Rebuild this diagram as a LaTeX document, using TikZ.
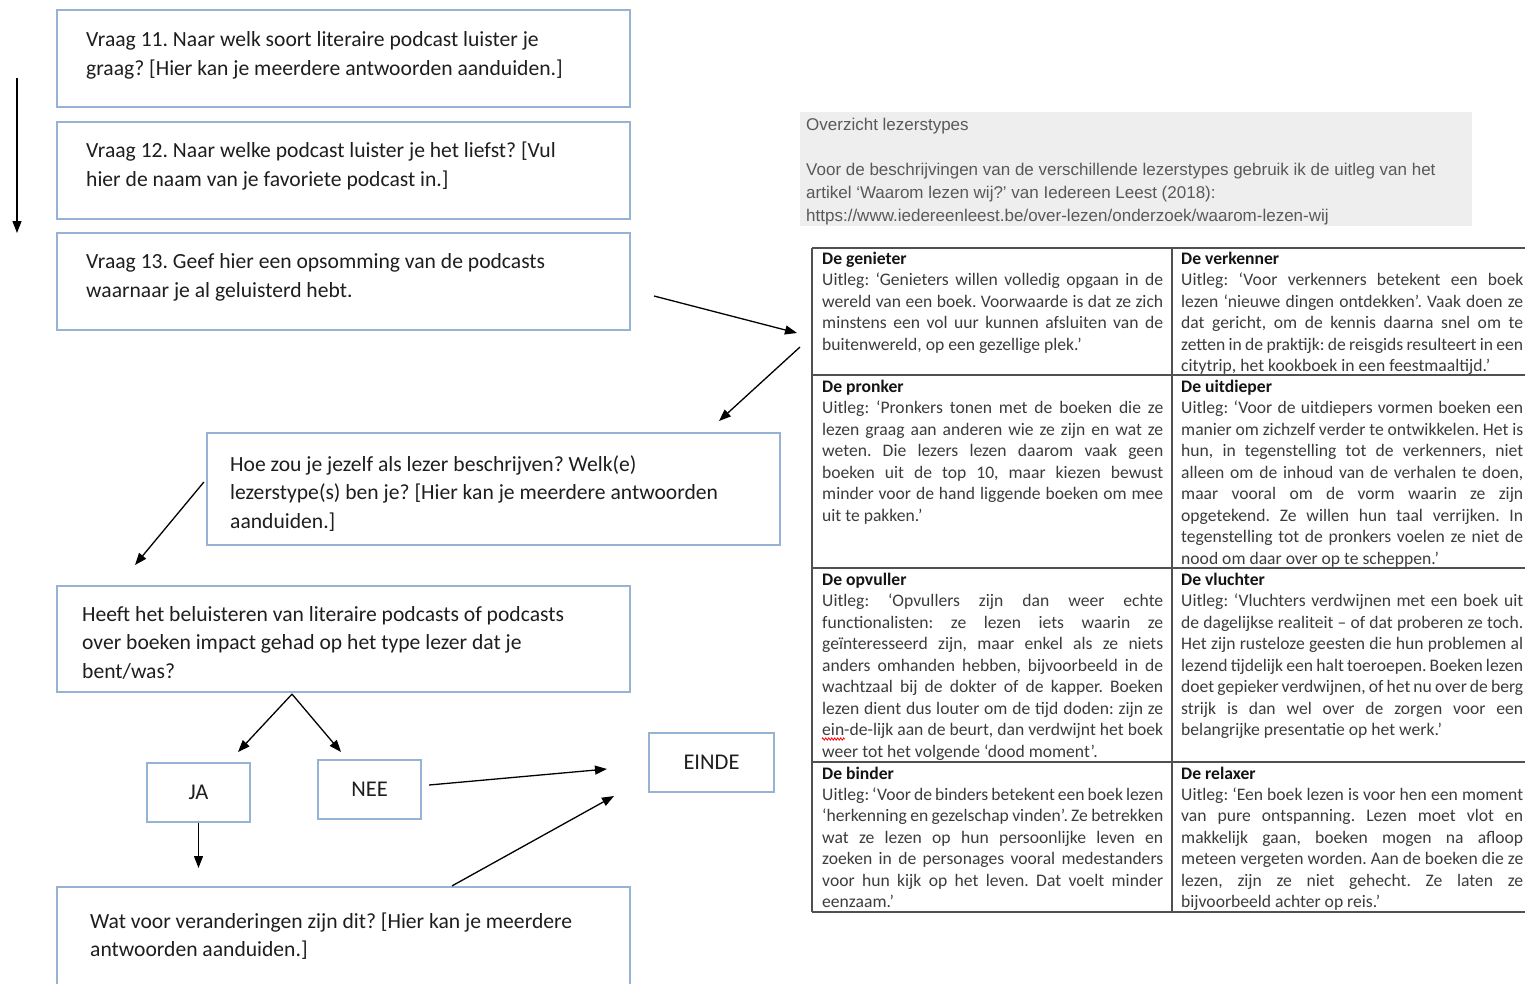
\documentclass[tikz,border=0pt]{standalone}
\usepackage{fontspec}
\setmainfont{Carlito}
\newfontfamily\arialf{Liberation Sans}
\usetikzlibrary{arrows.meta,calc,decorations.pathmorphing}
\definecolor{boxblue}{RGB}{150,178,212}
\definecolor{qcol}{RGB}{30,30,30}
\definecolor{tabcol}{RGB}{60,60,60}
\definecolor{hdrcol}{RGB}{20,20,20}
\definecolor{ovcol}{RGB}{89,89,89}
\definecolor{ovbg}{RGB}{238,238,238}
\definecolor{tline}{RGB}{80,80,80}
\frenchspacing
\newlength\cellw
\newcommand\jline[1]{\hbox to \cellw{#1}}
\newcommand\fline[1]{\hbox{#1}}
\newcommand\tcell[3]{\setlength\cellw{#1}\vtop{\hbox{\color{hdrcol}\bfseries #2}#3}}
\newcommand\qlines[1]{\vtop{#1}}
\begin{document}
\begin{tikzpicture}[x=1pt,y=-1pt,
  qbox/.style={draw=boxblue, line width=2.2pt, fill=white, rectangle, inner sep=0pt},
  qtext/.style={anchor=base west, inner sep=0pt, text=qcol, font=\fontsize{21.6}{29}\selectfont},
  lbl/.style={qbox, text=qcol, font=\fontsize{22.5}{27}\selectfont, text height=14.5pt, text depth=0pt},
  tabtext/.style={anchor=base west, inner sep=0pt, text=tabcol, font=\fontsize{17.6}{21.45}\selectfont},
  ovtext/.style={anchor=base west, inner sep=0pt, text=ovcol, font=\arialf\fontsize{17}{22.8}\selectfont},
  tabline/.style={draw=tline, line width=1.3pt},
  arr/.style={draw=black, line width=1.3pt, -{Triangle[length=12pt,width=9pt]}}]
\useasboundingbox (0,0) rectangle (1525,983);
\clip (0,0) rectangle (1525,983);
\fill[white] (0,0) rectangle (1525,983);

% question boxes
\node[qbox, minimum width=573pt, minimum height=97pt] (q11) at (343.5,58.5) {};
\node[qbox, minimum width=573pt, minimum height=97pt] (q12) at (343.5,170.5) {};
\node[qbox, minimum width=573pt, minimum height=97pt] (q13) at (343.5,281.5) {};
\node[qbox, minimum width=573pt, minimum height=112pt] (hoe) at (493.5,489) {};
\node[qbox, minimum width=573pt, minimum height=106pt] (heeft) at (343.5,639) {};
\node[qbox, minimum width=573pt, minimum height=100pt] (wat) at (343.5,937) {};
\node[lbl, minimum width=103pt, minimum height=59pt] (ja) at (198.5,792.5) {JA};
\node[lbl, minimum width=103pt, minimum height=59pt] (nee) at (369.5,789.5) {NEE};
\node[lbl, minimum width=125pt, minimum height=59pt] (einde) at (711.5,762.5) {EINDE};

\node[qtext] (q11t) at (86,46) {\qlines{\hbox{Vraag 11. Naar welk soort literaire podcast luister je}\hbox{graag? [Hier kan je meerdere antwoorden aanduiden.]}}};
\node[qtext] (q12t) at (86,157) {\qlines{\hbox{Vraag 12. Naar welke podcast luister je het liefst? [Vul}\hbox{hier de naam van je favoriete podcast in.]}}};
\node[qtext] (q13t) at (86,268) {\qlines{\hbox{Vraag 13. Geef hier een opsomming van de podcasts}\hbox{waarnaar je al geluisterd hebt.}}};
\node[qtext, font=\fontsize{21.6}{28.5}\selectfont] (hoet) at (230,471) {\qlines{\hbox{Hoe zou je jezelf als lezer beschrijven? Welk(e)}\hbox{lezerstype(s) ben je? [Hier kan je meerdere antwoorden}\hbox{aanduiden.]}}};
\node[qtext, font=\fontsize{21.6}{28.5}\selectfont] (heeftt) at (82,621) {\qlines{\hbox{Heeft het beluisteren van literaire podcasts of podcasts}\hbox{over boeken impact gehad op het type lezer dat je}\hbox{bent/was?}}};
\node[qtext, font=\fontsize{21.6}{28.5}\selectfont] (watt) at (90,928) {\qlines{\hbox{Wat voor veranderingen zijn dit? [Hier kan je meerdere}\hbox{antwoorden aanduiden.]}}};

% overview block
\fill[ovbg] (800,112) rectangle (1472,226);
\node[ovtext] (ovt) at (806,130) {\qlines{\hbox{Overzicht lezerstypes}\hbox{}\hbox{Voor de beschrijvingen van de verschillende lezerstypes gebruik ik de uitleg van het}\hbox{artikel ‘Waarom lezen wij?’ van Iedereen Leest (2018):}\hbox{https://www.iedereenleest.be/over-lezen/onderzoek/waarom-lezen-wij}}};

% table grid
\draw[tabline] (812,248) -- (1525,248);
\draw[tabline] (812,375) -- (1525,375);
\draw[tabline] (812,568) -- (1525,568);
\draw[tabline] (812,762) -- (1525,762);
\draw[tabline] (812,912) -- (1525,912);
\draw[tabline] (812,248) -- (812,912);
\draw[tabline] (1172,248) -- (1172,912);

% table cells
\node[tabtext] (c11) at (822,264.5) {\tcell{341pt}{De genieter}{%
\jline{Uitleg: ‘Genieters willen volledig opgaan in de}%
\jline{wereld van een boek. Voorwaarde is dat ze zich}%
\jline{minstens een vol uur kunnen afsluiten van de}%
\fline{buitenwereld, op een gezellige plek.’}}};
\node[tabtext] (c12) at (1181,264.5) {\tcell{342pt}{De verkenner}{%
\jline{Uitleg: ‘Voor verkenners betekent een boek}%
\jline{lezen ‘nieuwe dingen ontdekken’. Vaak doen ze}%
\jline{dat gericht, om de kennis daarna snel om te}%
\jline{zetten in de praktijk: de reisgids resulteert in een}%
\fline{citytrip, het kookboek in een feestmaaltijd.’}}};
\node[tabtext] (c21) at (822,392.5) {\tcell{341pt}{De pronker}{%
\jline{Uitleg: ‘Pronkers tonen met de boeken die ze}%
\jline{lezen graag aan anderen wie ze zijn en wat ze}%
\jline{weten. Die lezers lezen daarom vaak geen}%
\jline{boeken uit de top 10, maar kiezen bewust}%
\jline{minder voor de hand liggende boeken om mee}%
\fline{uit te pakken.’}}};
\node[tabtext] (c22) at (1181,392.5) {\tcell{342pt}{De uitdieper}{%
\jline{Uitleg: ‘Voor de uitdiepers vormen boeken een}%
\jline{manier om zichzelf verder te ontwikkelen. Het is}%
\jline{hun, in tegenstelling tot de verkenners, niet}%
\jline{alleen om de inhoud van de verhalen te doen,}%
\jline{maar vooral om de vorm waarin ze zijn}%
\jline{opgetekend. Ze willen hun taal verrijken. In}%
\jline{tegenstelling tot de pronkers voelen ze niet de}%
\fline{nood om daar over op te scheppen.’}}};
\node[tabtext] (c31) at (822,585.5) {\tcell{341pt}{De opvuller}{%
\jline{Uitleg: ‘Opvullers zijn dan weer echte}%
\jline{functionalisten: ze lezen iets waarin ze}%
\jline{geïnteresseerd zijn, maar enkel als ze niets}%
\jline{anders omhanden hebben, bijvoorbeeld in de}%
\jline{wachtzaal bij de dokter of de kapper. Boeken}%
\jline{lezen dient dus louter om de tijd doden: zijn ze}%
\jline{ein-de-lijk aan de beurt, dan verdwijnt het boek}%
\fline{weer tot het volgende ‘dood moment’.}}};
\node[tabtext] (c32) at (1181,585.5) {\tcell{342pt}{De vluchter}{%
\jline{Uitleg: ‘Vluchters verdwijnen met een boek uit}%
\jline{de dagelijkse realiteit – of dat proberen ze toch.}%
\jline{Het zijn rusteloze geesten die hun problemen al}%
\jline{lezend tijdelijk een halt toeroepen. Boeken lezen}%
\jline{doet gepieker verdwijnen, of het nu over de berg}%
\jline{strijk is dan wel over de zorgen voor een}%
\fline{belangrijke presentatie op het werk.’}}};
\node[tabtext] (c41) at (822,779) {\tcell{341pt}{De binder}{%
\jline{Uitleg: ‘Voor de binders betekent een boek lezen}%
\jline{‘herkenning en gezelschap vinden’. Ze betrekken}%
\jline{wat ze lezen op hun persoonlijke leven en}%
\jline{zoeken in de personages vooral medestanders}%
\jline{voor hun kijk op het leven. Dat voelt minder}%
\fline{eenzaam.’}}};
\node[tabtext] (c42) at (1181,779) {\tcell{342pt}{De relaxer}{%
\jline{Uitleg: ‘Een boek lezen is voor hen een moment}%
\jline{van pure ontspanning. Lezen moet vlot en}%
\jline{makkelijk gaan, boeken mogen na afloop}%
\jline{meteen vergeten worden. Aan de boeken die ze}%
\jline{lezen, zijn ze niet gehecht. Ze laten ze}%
\fline{bijvoorbeeld achter op reis.’}}};
% spelling squiggle
\draw[red, line width=0.8pt, decorate, decoration={zigzag, amplitude=1.1pt, segment length=3pt}] (822,739) -- (845,739);

% connectors
\coordinate (v1) at (17,78);
\coordinate (v2) at (17,233);
\draw[arr] (v1) -- (v2);
\coordinate (a2s) at (654,296);
\coordinate (a2e) at (797,333);
\draw[arr] (a2s) -- (a2e);
\coordinate (a3s) at (800,347);
\coordinate (a3e) at (719,421);
\draw[arr] (a3s) -- (a3e);
\coordinate (a4e) at (135,565);
\draw[arr] ($(hoe.west)+(-2,-7)$) -- (a4e);
\coordinate (split) at ($(heeft.south)+(-51.5,1)$);
\coordinate (a5l) at (238,752);
\coordinate (a5r) at (341,752);
\draw[arr] (split) -- (a5l);
\draw[arr] (split) -- (a5r);
\coordinate (a6e) at (198.5,868);
\draw[arr] (ja.south) -- (a6e);
\coordinate (a7e) at (607,769);
\draw[arr] ($(nee.east)+(7,-4.5)$) -- (a7e);
\coordinate (a8e) at (614,796);
\draw[arr] ($(wat.north)+(108.5,0)$) -- (a8e);
\end{tikzpicture}
\end{document}
